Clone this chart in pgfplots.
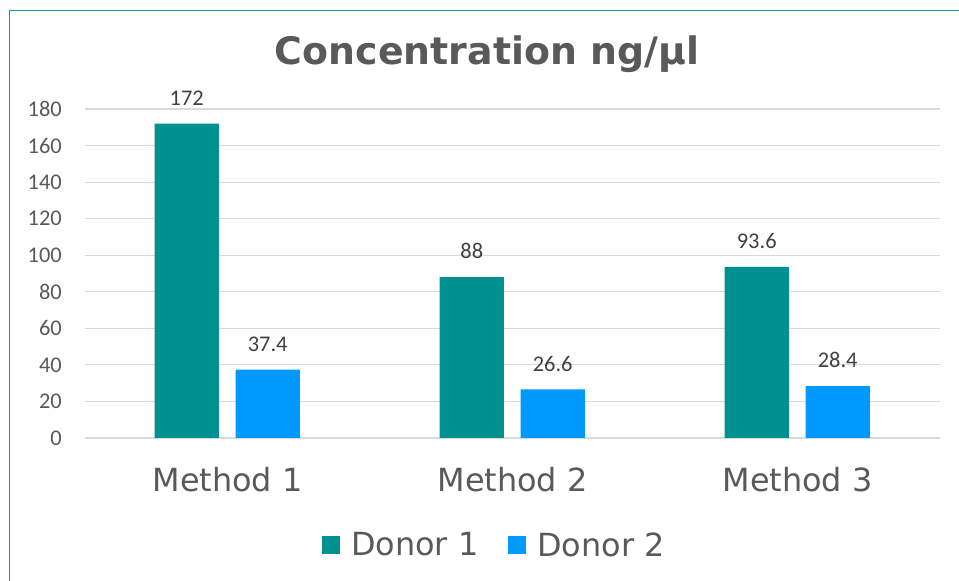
\documentclass[border=0pt]{standalone}
\usepackage{pgfplots}
\pgfplotsset{compat=1.18}
\usepackage{fontspec}
\setmainfont{DejaVu Sans}
\newfontfamily\carlito{Carlito}

\definecolor{donorone}{HTML}{009090}
\definecolor{donortwo}{HTML}{0099FF}
\definecolor{txt}{HTML}{595959}
\definecolor{lbl}{HTML}{404040}
\definecolor{gridc}{HTML}{D9D9D9}
\definecolor{framec}{HTML}{00A0A0}

\begin{document}
\begin{tikzpicture}
\useasboundingbox (0bp,0bp) rectangle (959bp,581bp);
\draw[framec, line width=1.3bp] (9.5bp,-2bp) -- (9.5bp,570.5bp) -- (961bp,570.5bp);

% title
\node[text=txt, font=\bfseries\fontsize{38}{38}\selectfont] at (487bp,527bp) {Concentration ng/μl};

\begin{axis}[
	at={(85bp,143bp)}, anchor=south west,
	scale only axis,
	width=855bp, height=329bp,
	ybar,
	bar width=0.225,
	xmin=-0.5, xmax=2.5,
	ymin=0, ymax=180,
	xtick={0,1,2},
	xticklabels={Method 1, Method 2, Method 3},
	ytick={0,20,...,180},
	axis line style={draw=none},
	tick style={draw=none},
	major tick length=0pt,
	ymajorgrids,
	grid style={gridc, line width=1.2bp},
	/pgf/number format/assume math mode=true,
	yticklabel style={font=\carlito\fontsize{22.5}{22.5}\selectfont, text=txt, anchor=east, inner sep=0pt, xshift=-23bp},
	xticklabel style={font=\fontsize{32}{32}\selectfont, text=txt, anchor=base, inner sep=0pt, yshift=-53.7bp},
	nodes near coords,
	every node near coord/.append style={font=\carlito\fontsize{22.5}{22.5}\selectfont, text=lbl, anchor=south, inner sep=0pt, yshift=18bp},
	legend columns=2,
	legend style={at={(0.484,-0.325)}, anchor=center, draw=none, fill=none,
		font=\fontsize{32}{32}\selectfont, text=txt,
		/tikz/every even column/.append style={column sep=19bp},
		nodes={inner xsep=11bp}},
	legend image code/.code={\fill[#1] (0bp,-9bp) rectangle (18bp,9bp);},
]

\addplot[fill=donorone, draw=none, bar shift=-0.143] coordinates {
	(0,172) (1,88) (2,93.6)
};
\addlegendentry{Donor 1}

\addplot[fill=donortwo, draw=none, bar shift=0.141] coordinates {
	(0,37.4) (1,26.6) (2,28.4)
};
\addlegendentry{Donor 2}

\end{axis}
\end{tikzpicture}
\end{document}
